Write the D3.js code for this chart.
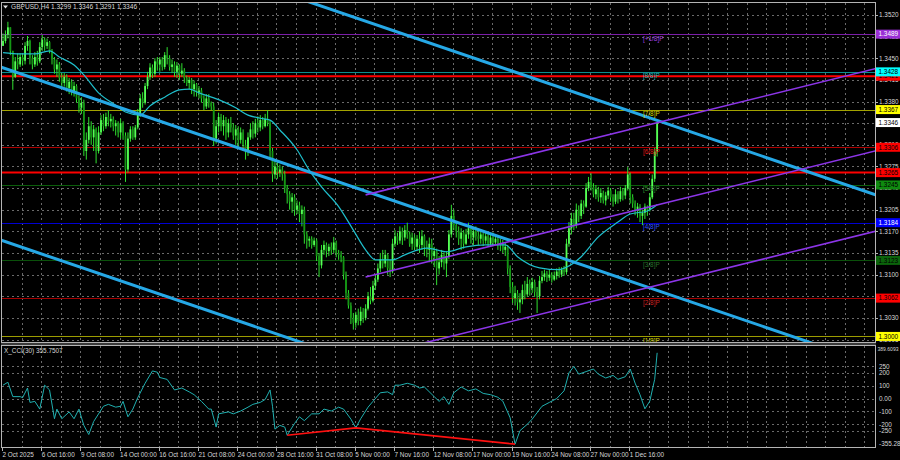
<!DOCTYPE html>
<meta charset="utf-8" />
<style>
  body {
    background: #000;
    margin: 0px;
  }
  svg {
    display: block;
    font-family: "Liberation Sans", Arial, sans-serif;
  }
  .grid line {
    stroke: #6a6a6a;
    stroke-width: 1px;
    stroke-dasharray: 2, 3;
    shape-rendering: crispEdges;
  }
  .frame {
    fill: none;
    stroke: #b4b4b4;
    stroke-width: 1px;
    shape-rendering: crispEdges;
  }
  .lbl {
    fill: #d8d8d8;
    font-size: 6.4px;
  }
</style>
<body>
<script src="https://d3js.org/d3.v7.min.js"></script>
<script>
  var width = 900,
    height = 460;

  // H4 candles, values in pips above 1.3000 (bar 0 = 2 Oct 2025 00:00)
  var firstOpen = 470;
  var closes = [
    478, 488, 500, 462, 420, 445, 440, 452, 446, 470,
    478, 450, 440, 452, 445, 468, 480, 470, 476, 462,
    448, 432, 440, 418, 410, 420, 402, 412, 396, 405,
    385, 370, 378, 300, 318, 340, 322, 335, 300, 330,
    350, 340, 355, 348, 352, 340, 345, 330, 345, 325,
    270, 320, 335, 322, 338, 360, 385, 378, 405, 420,
    435, 425, 445, 440, 448, 436, 455, 450, 436, 440,
    428, 438, 425, 430, 418, 410, 415, 400, 408, 395,
    398, 385, 372, 385, 378, 372, 320, 340, 355, 340,
    350, 330, 345, 338, 325, 335, 318, 330, 310, 300,
    322, 335, 328, 345, 338, 350, 340, 352, 345, 300,
    262, 275, 265, 270, 262, 240, 230, 218, 225, 205,
    212, 198, 205, 165, 155, 158, 148, 155, 130, 115,
    140, 148, 138, 145, 140, 152, 135, 132, 128, 100,
    70, 50, 30, 22, 35, 25, 40, 30, 45, 65,
    58, 82, 92, 110, 125, 118, 132, 110, 105, 150,
    162, 155, 170, 160, 172, 165, 150, 160, 145, 158,
    148, 162, 145, 140, 150, 130, 138, 110, 120, 132,
    118, 130, 165, 195, 180, 170, 158, 168, 150, 165,
    175, 160, 170, 162, 158, 165, 155, 162, 150, 160,
    152, 158, 148, 150, 140, 145, 110, 80, 62, 70,
    55, 60, 75, 68, 85, 78, 88, 72, 65, 90,
    96, 102, 95, 100, 92, 98, 105, 100, 108, 104,
    150, 175, 190, 180, 205, 195, 215, 210, 240, 250,
    242, 230, 238, 225, 232, 220, 228, 236, 225, 218,
    230, 222, 235, 228, 240, 262, 225, 215, 205, 210,
    195, 200, 210, 205, 225, 255, 299, 346
  ];
  var highs = [
    490, 495, 509, 500, 462, 452, 458, 458, 456, 476,
    486, 480, 455, 460, 462, 476, 488, 484, 482, 478,
    465, 452, 448, 444, 426, 426, 424, 418, 416, 412,
    408, 390, 387, 383, 330, 355, 348, 342, 338, 340,
    358, 360, 362, 366, 360, 356, 350, 348, 352, 348,
    330, 330, 340, 340, 342, 368, 392, 395, 410, 428,
    442, 440, 450, 452, 452, 452, 460, 468, 455, 448,
    445, 444, 440, 442, 434, 422, 420, 418, 414, 410,
    405, 402, 390, 392, 392, 380, 378, 350, 362, 360,
    358, 355, 352, 355, 345, 342, 340, 338, 335, 318,
    330, 345, 348, 352, 356, 358, 355, 360, 366, 350,
    305, 285, 282, 278, 275, 268, 245, 235, 232, 230,
    220, 218, 212, 210, 170, 162, 162, 160, 158, 135,
    148, 155, 152, 150, 152, 161, 155, 140, 138, 130,
    105, 75, 55, 38, 40, 45, 48, 46, 52, 72,
    80, 90, 100, 118, 135, 140, 140, 134, 124, 158,
    172, 168, 178, 176, 180, 184, 170, 168, 165, 164,
    170, 172, 165, 155, 160, 158, 145, 142, 130, 140,
    136, 138, 172, 213, 205, 185, 178, 175, 172, 174,
    184, 180, 176, 178, 170, 172, 168, 170, 166, 165,
    168, 165, 161, 158, 156, 152, 148, 115, 88, 82,
    75, 70, 84, 90, 96, 92, 95, 92, 80, 98,
    106, 108, 106, 108, 104, 105, 110, 112, 112, 114,
    158, 185, 200, 200, 215, 212, 221, 220, 248, 258,
    264, 248, 245, 242, 240, 236, 234, 242, 240, 230,
    238, 235, 242, 240, 245, 274, 265, 230, 220, 216,
    214, 205, 215, 212, 232, 262, 305, 346
  ];
  var lows = [
    470, 474, 482, 455, 399, 418, 432, 436, 438, 440,
    462, 440, 432, 436, 438, 442, 462, 462, 465, 458,
    440, 425, 420, 412, 400, 404, 396, 392, 390, 388,
    378, 362, 360, 292, 286, 312, 310, 300, 280, 296,
    326, 332, 336, 340, 338, 332, 325, 322, 320, 318,
    250, 265, 315, 318, 318, 335, 355, 370, 375, 400,
    415, 418, 420, 430, 428, 430, 432, 440, 430, 426,
    420, 418, 415, 420, 410, 405, 400, 392, 388, 388,
    385, 378, 366, 368, 370, 366, 308, 312, 330, 332,
    325, 318, 322, 330, 318, 310, 305, 312, 300, 286,
    292, 318, 320, 322, 330, 332, 335, 338, 340, 290,
    250, 255, 255, 258, 252, 232, 215, 205, 200, 195,
    198, 185, 178, 150, 142, 145, 142, 145, 122, 96,
    110, 132, 128, 130, 132, 135, 128, 124, 120, 92,
    60, 45, 20, 11, 14, 18, 18, 22, 26, 42,
    52, 55, 75, 88, 104, 110, 112, 100, 96, 102,
    145, 148, 150, 148, 155, 158, 145, 140, 140, 138,
    135, 140, 130, 128, 120, 118, 112, 83, 100, 112,
    108, 96, 125, 160, 172, 160, 148, 140, 142, 148,
    158, 150, 148, 155, 148, 150, 146, 150, 145, 145,
    146, 148, 140, 138, 135, 130, 100, 70, 54, 50,
    43, 38, 52, 60, 64, 66, 70, 64, 38, 60,
    86, 90, 88, 90, 87, 90, 92, 95, 96, 98,
    100, 145, 165, 172, 175, 185, 190, 198, 208, 235,
    236, 225, 222, 218, 216, 215, 212, 222, 218, 210,
    214, 215, 218, 220, 222, 236, 215, 208, 196, 192,
    185, 180, 190, 195, 202, 222, 250, 291
  ];

  // moving average (bar index, pips)
  var maIdx = [0, 7, 13, 19, 23, 29, 33, 39, 46, 50, 56, 60, 66, 72, 76, 80, 88, 95, 100, 105, 109, 113, 120, 125, 130, 137, 143, 148, 152, 159, 164, 173, 181, 189, 197, 205, 210, 219, 227, 230, 236, 243, 251, 256, 263, 267];
  var maVal = [459, 457, 457, 462, 452, 439, 423, 394, 374, 363, 358, 373, 387, 399, 400, 394, 383, 370, 358, 353, 350, 334, 302, 269, 242, 210, 172, 140, 124, 124, 132, 143, 137, 145, 148, 148, 129, 111, 108, 112, 129, 161, 185, 198, 203, 213];

  // X_CCI(30)
  var cciIdx = [0, 2, 4, 7, 8, 10, 11, 13, 15, 17, 19, 21, 22, 24, 27, 29, 31, 33, 35, 37, 41, 43, 46, 48, 49, 51, 53, 55, 58, 61, 63, 64, 67, 70, 73, 76, 78, 81, 84, 85, 87, 88, 92, 94, 97, 100, 102, 105, 107, 109, 110, 111, 113, 115, 116, 119, 121, 123, 126, 129, 131, 134, 137, 139, 142, 144, 146, 149, 151, 154, 157, 159, 160, 162, 165, 168, 170, 172, 176, 178, 180, 182, 184, 187, 190, 193, 196, 199, 202, 204, 207, 209, 211, 214, 216, 220, 223, 226, 229, 231, 233, 235, 238, 241, 243, 246, 249, 251, 254, 256, 258, 260, 262, 264, 266, 267];
  var cciVal = [104, 127, 15, 15, 7, 82, -30, -22, -82, 104, 67, -157, -82, -157, -104, -157, -82, -209, -280, -179, -60, -45, -67, -60, -22, -142, -82, 7, 119, 215, 205, 164, 149, 67, 82, 52, 30, -22, -82, -82, -222, -119, -104, -119, -97, -67, -45, -30, -7, 67, -60, -238, -209, -222, -285, -194, -142, -172, -119, -119, -82, -97, -67, -82, -160, -228, -157, -67, -22, 45, 52, 30, 104, 104, 119, 104, 82, 90, 15, -22, 15, -45, 45, 90, 60, 75, 40, 30, 10, -20, -150, -355, -250, -200, -160, -60, -30, 0, 60, 200, 250, 190, 210, 230, 190, 160, 180, 150, 170, 230, 120, 30, -80, -20, 150, 356];
  var divIdx = [116, 144, 209];
  var divVal = [-285, -228, -355];

  // price levels
  var murreyLevels = [1.3489, 1.3428, 1.3367, 1.3306, 1.3245, 1.3184, 1.3123, 1.3062, 1.3000];
  var murreyNames = ["[+1/8]P", "[8/8]P", "[7/8]P", "[6/8]P", "[5/8]P", "[4/8]P", "[3/8]P", "[2/8]P", "[1/8]P"];
  var redLevels = [1.3421, 1.3265];
  var lastPrice = 1.3346;
  var priceTicks = [1.2995, 1.3030, 1.3065, 1.3100, 1.3135, 1.3170, 1.3205, 1.3240, 1.3275, 1.3310, 1.3345, 1.3380, 1.3415, 1.3450, 1.3485, 1.3520];
  var cciTicks = [250, 200, 100, 0, -100, -200, -250];
  var cciTickText = ["250", "200", "100", "0.00", "-100", "-200", "-250"];
  var timeLabels = ["2 Oct 2025", "6 Oct 16:00", "9 Oct 08:00", "14 Oct 00:00", "16 Oct 16:00", "21 Oct 08:00", "24 Oct 00:00", "28 Oct 16:00", "31 Oct 08:00", "5 Nov 00:00", "7 Nov 16:00", "12 Nov 08:00", "17 Nov 00:00", "19 Nov 16:00", "24 Nov 08:00", "27 Nov 00:00", "1 Dec 16:00"];

  // channels: [[bar, price], [bar, price]]
  var cyanLines = [
    [[-1, 1.3711], [360, 1.3224]],
    [[-1, 1.3436], [360, 1.2949]],
    [[-1, 1.3156], [360, 1.2669]]
  ];
  var purpleLines = [
    [[148, 1.3229], [360, 1.3437]],
    [[148, 1.3096], [360, 1.3304]],
    [[148, 1.2966], [360, 1.3174]]
  ];

  function pip(v) {
    return 1.3 + v / 10000;
  }

  var x = d3.scaleLinear().domain([0, 16]).range([2, 41.2]);
  var y = d3.scaleLinear().domain([1.2991, 1.3541]).range([342, 2]);
  var cy = d3.scaleLinear().domain([-355.28, 389.6093]).range([444.2, 348.5]);

  var svg = d3
    .select("body")
    .append("svg")
    .attr("width", width)
    .attr("height", height)
    .style("background", "#000");

  var defs = svg.append("defs");
  defs.append("clipPath").attr("id", "clipMain")
    .append("rect").attr("x", 1).attr("y", 2).attr("width", 874).attr("height", 340);
  defs.append("clipPath").attr("id", "clipCci")
    .append("rect").attr("x", 1).attr("y", 345).attr("width", 874).attr("height", 102);

  // grid
  var gridBars = d3.range(8, 400, 8).filter(function (i) { return x(i) < 874; });
  var grid = svg.append("g").attr("class", "grid");
  grid.selectAll("line.vm").data(gridBars).join("line")
    .attr("x1", function (i) { return Math.round(x(i)) + 0.5; })
    .attr("x2", function (i) { return Math.round(x(i)) + 0.5; })
    .attr("y1", 3).attr("y2", 342);
  grid.selectAll("line.vc").data(gridBars).join("line")
    .attr("x1", function (i) { return Math.round(x(i)) + 0.5; })
    .attr("x2", function (i) { return Math.round(x(i)) + 0.5; })
    .attr("y1", 346).attr("y2", 447);
  grid.selectAll("line.hm").data(priceTicks).join("line")
    .attr("x1", 2).attr("x2", 875)
    .attr("y1", function (p) { return Math.round(y(p)) + 0.5; })
    .attr("y2", function (p) { return Math.round(y(p)) + 0.5; });
  grid.selectAll("line.hc").data(cciTicks).join("line")
    .attr("x1", 2).attr("x2", 875)
    .attr("y1", function (v) { return Math.round(cy(v)) + 0.5; })
    .attr("y2", function (v) { return Math.round(cy(v)) + 0.5; });

  var main = svg.append("g").attr("clip-path", "url(#clipMain)");

  // murrey levels
  var murreyLine = ["#7b1fa8", "#0a8f8f", "#a3a300", "#b00000", "#0b5e0b", "#0000d2", "#0a500a", "#a50000", "#9c9c00"];
  var murreyText = ["#a040e0", "#20b8b8", "#d8d800", "#e01818", "#2a8a2a", "#3050ff", "#2a702a", "#d02020", "#d0d000"];
  main.selectAll("line.murrey").data(murreyLevels).join("line")
    .attr("x1", 1).attr("x2", 875)
    .attr("y1", function (p) { return Math.round(y(p)) + 0.5; })
    .attr("y2", function (p) { return Math.round(y(p)) + 0.5; })
    .attr("stroke", function (p, i) { return murreyLine[i]; })
    .attr("stroke-width", 1)
    .style("shape-rendering", "crispEdges");

  main.selectAll("line.red").data(redLevels).join("line")
    .attr("x1", 1).attr("x2", 875)
    .attr("y1", function (p) { return y(p); })
    .attr("y2", function (p) { return y(p); })
    .attr("stroke", "#ff0000")
    .attr("stroke-width", 2);

  // candles
  var candles = closes.map(function (c, i) {
    return { i: i, o: i === 0 ? firstOpen : closes[i - 1], h: highs[i], l: lows[i], c: c };
  });
  main.selectAll("line.wick").data(candles).join("line")
    .attr("x1", function (d) { return x(d.i) + 1; })
    .attr("x2", function (d) { return x(d.i) + 1; })
    .attr("y1", function (d) { return y(pip(Math.max(d.h, d.o, d.c))); })
    .attr("y2", function (d) { return y(pip(Math.min(d.l, d.o, d.c))); })
    .attr("stroke", "#2fe02f")
    .attr("stroke-width", 1);
  main.selectAll("rect.body").data(candles).join("rect")
    .attr("x", function (d) { return x(d.i) + 0.1; })
    .attr("width", 1.8)
    .attr("y", function (d) { return y(pip(Math.max(d.o, d.c))); })
    .attr("height", function (d) { return Math.max(0.8, Math.abs(y(pip(d.o)) - y(pip(d.c)))); })
    .attr("fill", function (d) { return d.c >= d.o ? "#55ff55" : "#149614"; });

  // moving average
  main.append("path")
    .datum(maIdx.map(function (i, k) { return [i, maVal[k]]; }))
    .attr("fill", "none")
    .attr("stroke", "#1fbfcc")
    .attr("stroke-width", 1.2)
    .attr("d", d3.line()
      .x(function (d) { return x(d[0]) + 1; })
      .y(function (d) { return y(pip(d[1])); })
      .curve(d3.curveMonotoneX));

  var trend = d3.line()
    .x(function (d) { return x(d[0]) + 1; })
    .y(function (d) { return y(d[1]); });

  main.selectAll("path.cyan").data(cyanLines).join("path")
    .attr("fill", "none")
    .attr("stroke", "#26a8e6")
    .attr("stroke-width", 3)
    .attr("d", trend);
  main.selectAll("path.purple").data(purpleLines).join("path")
    .attr("fill", "none")
    .attr("stroke", "#8c35e8")
    .attr("stroke-width", 1.6)
    .attr("d", trend);

  main.selectAll("text.murrey").data(murreyLevels).join("text")
    .attr("x", 643)
    .attr("y", function (p) { return y(p) + 6.5; })
    .attr("fill", function (p, i) { return murreyText[i]; })
    .style("font-size", "6.4px")
    .text(function (p, i) { return murreyNames[i]; });

  // header
  svg.append("path").attr("d", "M3,5.5 L8,5.5 L5.5,8.5 Z").attr("fill", "#e0e0e0");
  svg.append("text").attr("class", "lbl").attr("x", 11).attr("y", 9)
    .style("font-size", "6.6px")
    .text("GBPUSD,H4  1.3299 1.3346 1.3291 1.3346");

  // CCI panel
  var cci = svg.append("g").attr("clip-path", "url(#clipCci)");
  cci.append("path")
    .datum(cciIdx.map(function (i, k) { return [i, cciVal[k]]; }))
    .attr("fill", "none")
    .attr("stroke", "#20b0b0")
    .attr("stroke-width", 1)
    .attr("d", d3.line()
      .x(function (d) { return x(d[0]) + 1; })
      .y(function (d) { return cy(d[1]); }));
  cci.append("path")
    .datum(divIdx.map(function (i, k) { return [i, divVal[k]]; }))
    .attr("fill", "none")
    .attr("stroke", "#ff1010")
    .attr("stroke-width", 1.6)
    .attr("d", d3.line()
      .x(function (d) { return x(d[0]) + 1; })
      .y(function (d) { return cy(d[1]); }));
  svg.append("text").attr("class", "lbl").attr("x", 4).attr("y", 352.5)
    .text("X_CCI(30) 355.7507");

  // frames
  svg.append("rect").attr("x", 1).attr("y", 342.5).attr("width", 875).attr("height", 2.5).attr("fill", "#3a3a3a");
  svg.append("rect").attr("class", "frame").attr("x", 1.5).attr("y", 2.5).attr("width", 874).attr("height", 340);
  svg.append("rect").attr("class", "frame").attr("x", 1.5).attr("y", 345.5).attr("width", 874).attr("height", 102);

  // price axis
  var axisG = svg.append("g");
  axisG.selectAll("line.pt").data(priceTicks).join("line")
    .attr("x1", 876).attr("x2", 878)
    .attr("y1", function (p) { return Math.round(y(p)) + 0.5; })
    .attr("y2", function (p) { return Math.round(y(p)) + 0.5; })
    .attr("stroke", "#b4b4b4");
  axisG.selectAll("text.pt").data(priceTicks).join("text")
    .attr("class", "lbl")
    .attr("x", 879)
    .attr("y", function (p) { return y(p) + 2.3; })
    .text(function (p) { return p.toFixed(4); });

  // level boxes on the price axis (red 1.3421 first so cyan sits over it)
  var boxPrices = [redLevels[0]].concat(murreyLevels, [redLevels[1], lastPrice]);
  var boxFill = ["#ff0000", "#9a2fd6", "#00ffff", "#ffff00", "#ff0000", "#0f8a0f", "#0000ff", "#0b640b", "#ff0000", "#ffff00", "#ff0000", "#ffffff"];
  var boxText = ["#000", "#fff", "#000", "#000", "#000", "#000", "#fff", "#000", "#000", "#000", "#000", "#000"];
  var boxes = axisG.selectAll("g.box").data(boxPrices).join("g");
  boxes.append("rect")
    .attr("x", 876)
    .attr("y", function (p) { return y(p) - 4.5; })
    .attr("width", 24)
    .attr("height", 9)
    .attr("fill", function (p, i) { return boxFill[i]; });
  boxes.append("text")
    .attr("x", 878.5)
    .attr("y", function (p) { return y(p) + 2.3; })
    .attr("fill", function (p, i) { return boxText[i]; })
    .style("font-size", "6.4px")
    .text(function (p) { return p.toFixed(4); });

  // cci axis
  axisG.selectAll("text.ct").data(cciTicks).join("text")
    .attr("class", "lbl")
    .attr("x", 879)
    .attr("y", function (v) { return cy(v) + 2.3; })
    .text(function (v, i) { return cciTickText[i]; });
  axisG.append("text").attr("class", "lbl").attr("x", 877.5).attr("y", 351)
    .style("font-size", "6px")
    .attr("textLength", 21).attr("lengthAdjust", "spacingAndGlyphs")
    .text("389.6093");
  axisG.append("text").attr("class", "lbl").attr("x", 879).attr("y", 445.5).text("-355.28");

  // time axis
  var timeBars = timeLabels.map(function (t, k) { return k * 16; });
  axisG.selectAll("line.tt").data(timeBars).join("line")
    .attr("x1", function (i) { return Math.round(x(i)) + 0.5; })
    .attr("x2", function (i) { return Math.round(x(i)) + 0.5; })
    .attr("y1", 448).attr("y2", 451)
    .attr("stroke", "#b4b4b4");
  axisG.selectAll("text.tt").data(timeBars).join("text")
    .attr("class", "lbl")
    .attr("x", function (i) { return x(i) + 0.5; })
    .attr("y", 456.5)
    .text(function (i, k) { return timeLabels[k]; });
</script>
</body>
